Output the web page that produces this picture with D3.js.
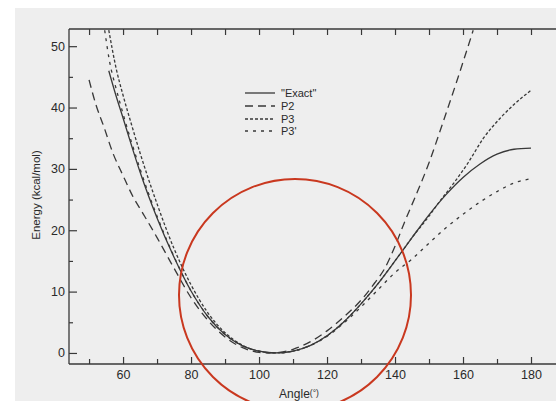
<!DOCTYPE html>
<html><head><meta charset="utf-8">
<script src="https://cdn.jsdelivr.net/npm/d3@7/dist/d3.min.js"></script>
<style>html,body{margin:0;padding:0;background:#fff;}svg{display:block;font-family:"Liberation Sans",Arial,sans-serif;}</style>
</head><body>
<svg id="c" width="556" height="401"></svg>
<script>
// ---- data (angle in degrees, energy in kcal/mol) ----
const exactAngles = [55.8,58,60,62.5,65,70,75,80,85,90,95,100,105,110,115,120,125,130,135,140,145,150,155,160,165,170,175,180];
const exactEnergy = [46,41.8,38.3,33.8,29.5,22,15.6,10.1,5.9,3,1.2,0.3,0,0.3,1.2,2.8,5.1,8,11.3,15,18.8,22.5,25.8,28.6,30.8,32.4,33.2,33.4];

const p2Angles = [50,52,54.4,57,60,63,66,70,75,80,85,90,95,100,103,106,110,115,120,125,130,134,137,140,143,146,150,154,158,160,163];
const p2Energy = [44.5,40.5,36.8,32.6,28.9,25.4,22.6,18.8,13.8,9,5.3,2.6,0.9,0.1,0,0.1,0.6,1.8,3.6,5.9,8.6,11.4,13.8,17.4,21.6,25.5,31,37.4,44,47.4,52.6];

const p3Angles = [55.8,58,60,62.5,65,70,75,80,85,90,95,100,105,110,115,120,125,130,135,140,145,150,153,156.5,161.5,166,171,175,180];
const p3Energy = [52.6,46.3,42,37.2,32.6,24.3,17,11.1,6.5,3.3,1.3,0.3,0,0.3,1.2,2.8,5.1,8,11.3,15,18.8,22.3,24.6,27.1,31,35,38.3,40.5,42.8];

const p3pAngles = [54.6,56,58,60,65,70,75,80,85,90,95,100,105,110,115,120,125,130,135,140,145,150,155,160,165,170,175,180];
const p3pEnergy = [52.6,47.6,43,39,30,22.3,15.7,10.1,5.9,3,1.2,0.3,0,0.3,1.2,2.7,4.9,7.5,10.3,13.1,15.3,17.9,20.4,22.6,24.6,26.3,27.7,28.4];

const xTickValues = [60,80,100,120,140,160,180];
const xMinorTicks = [50,70,90,110,130,150,170,190];
const yTickValues = [0,10,20,30,40,50];
const yMinorTicks = [5,15,25,35,45];

const seriesNames = ['"Exact"','P2','P3',"P3'"];
const seriesDash = [null,"8,5","3,2","3,5"];

// ---- drawing ----
const svg = d3.select("#c");
const ink = "#383838";

// scanned page background
svg.append("rect").attr("x",0).attr("y",0).attr("width",556).attr("height",401).attr("fill","#ffffff");
svg.append("rect").attr("x",15).attr("y",8).attr("width",541).attr("height",393).attr("fill","#eeeeee");

const x = d3.scaleLinear().domain([44.1,190]).range([69,565]);
const y = d3.scaleLinear().domain([-1.8,52.8]).range([364,29]);

const gFrame = svg.append("g");
gFrame.append("line").attr("x1",x(44.1)).attr("x2",565).attr("y1",y(52.8)).attr("y2",y(52.8)).attr("stroke",ink).attr("stroke-width",1.3);
gFrame.append("line").attr("x1",x(44.1)).attr("x2",565).attr("y1",y(-1.8)).attr("y2",y(-1.8)).attr("stroke",ink).attr("stroke-width",1.3);
gFrame.append("line").attr("x1",x(44.1)).attr("x2",x(44.1)).attr("y1",y(52.8)).attr("y2",y(-1.8)).attr("stroke",ink).attr("stroke-width",1.3);

// bottom axis
const xAxis = d3.axisBottom(x).tickValues(xTickValues).tickSize(-7).tickPadding(6).tickFormat(d3.format("d"));
const gx = svg.append("g").attr("transform",`translate(0,${y(-1.8)})`).call(xAxis);
gx.select(".domain").remove();
gx.selectAll(".tick line").attr("stroke",ink).attr("stroke-width",1.2);
gx.selectAll(".tick text").attr("fill","#2a2a2a").attr("font-size",12.5);
const xMinor = d3.axisBottom(x).tickValues(xMinorTicks).tickSize(-5).tickFormat("");
const gxm = svg.append("g").attr("transform",`translate(0,${y(-1.8)})`).call(xMinor);
gxm.select(".domain").remove();
gxm.selectAll(".tick line").attr("stroke",ink).attr("stroke-width",1.2);

// top axis (ticks only)
const xTop = d3.axisTop(x).tickValues(xTickValues.concat(xMinorTicks)).tickSize(-6).tickFormat("");
const gt = svg.append("g").attr("transform",`translate(0,${y(52.8)})`).call(xTop);
gt.select(".domain").remove();
gt.selectAll(".tick line").attr("stroke",ink).attr("stroke-width",1.2);

// left axis
const yAxis = d3.axisLeft(y).tickValues(yTickValues).tickSize(-8).tickPadding(4).tickFormat(d3.format("d"));
const gy = svg.append("g").attr("transform",`translate(${x(44.1)},0)`).call(yAxis);
gy.select(".domain").remove();
gy.selectAll(".tick line").attr("stroke",ink).attr("stroke-width",1.2);
gy.selectAll(".tick text").attr("fill","#2a2a2a").attr("font-size",12.5);
const yMinor = d3.axisLeft(y).tickValues(yMinorTicks).tickSize(-4).tickFormat("");
const gym = svg.append("g").attr("transform",`translate(${x(44.1)},0)`).call(yMinor);
gym.select(".domain").remove();
gym.selectAll(".tick line").attr("stroke",ink).attr("stroke-width",1.2);

// axis titles
const xt = svg.append("text").attr("x",299).attr("y",398).attr("text-anchor","middle").attr("fill","#2a2a2a").attr("font-size",12);
xt.append("tspan").text("Angle");
xt.append("tspan").attr("font-size",8.5).attr("dy",-2).text("(°)");
svg.append("text").attr("transform","translate(40,195) rotate(-90)").attr("text-anchor","middle")
  .attr("fill","#2a2a2a").attr("font-size",11.5).text("Energy (kcal/mol)");

// curves
const line = d3.line().x(d=>x(d[0])).y(d=>y(d[1])).curve(d3.curveMonotoneX);
const series = [
  d3.zip(exactAngles, exactEnergy),
  d3.zip(p2Angles, p2Energy),
  d3.zip(p3Angles, p3Energy),
  d3.zip(p3pAngles, p3pEnergy)
];
svg.append("defs").append("clipPath").attr("id","pc").append("rect")
  .attr("x",x(44.1)).attr("y",y(52.8)).attr("width",565-x(44.1)).attr("height",y(-1.8)-y(52.8));
const gl = svg.append("g").attr("clip-path","url(#pc)");
series.forEach((s,i)=>{
  gl.append("path").datum(s).attr("d",line).attr("fill","none").attr("stroke",ink)
    .attr("stroke-width",1.3).attr("stroke-dasharray",seriesDash[i]);
});

// legend
const legY = [93,106,119,131];
seriesNames.forEach((n,i)=>{
  svg.append("line").attr("x1",245).attr("x2",275).attr("y1",legY[i]).attr("y2",legY[i])
    .attr("stroke",ink).attr("stroke-width",1.3).attr("stroke-dasharray",seriesDash[i]);
  svg.append("text").attr("x",281).attr("y",legY[i]+4).attr("fill","#2a2a2a").attr("font-size",11).text(n);
});

// red annotation circle
svg.append("circle").attr("cx",295).attr("cy",295).attr("r",116)
  .attr("fill","none").attr("stroke","#c9381f").attr("stroke-width",2);
</script>
</body></html>
